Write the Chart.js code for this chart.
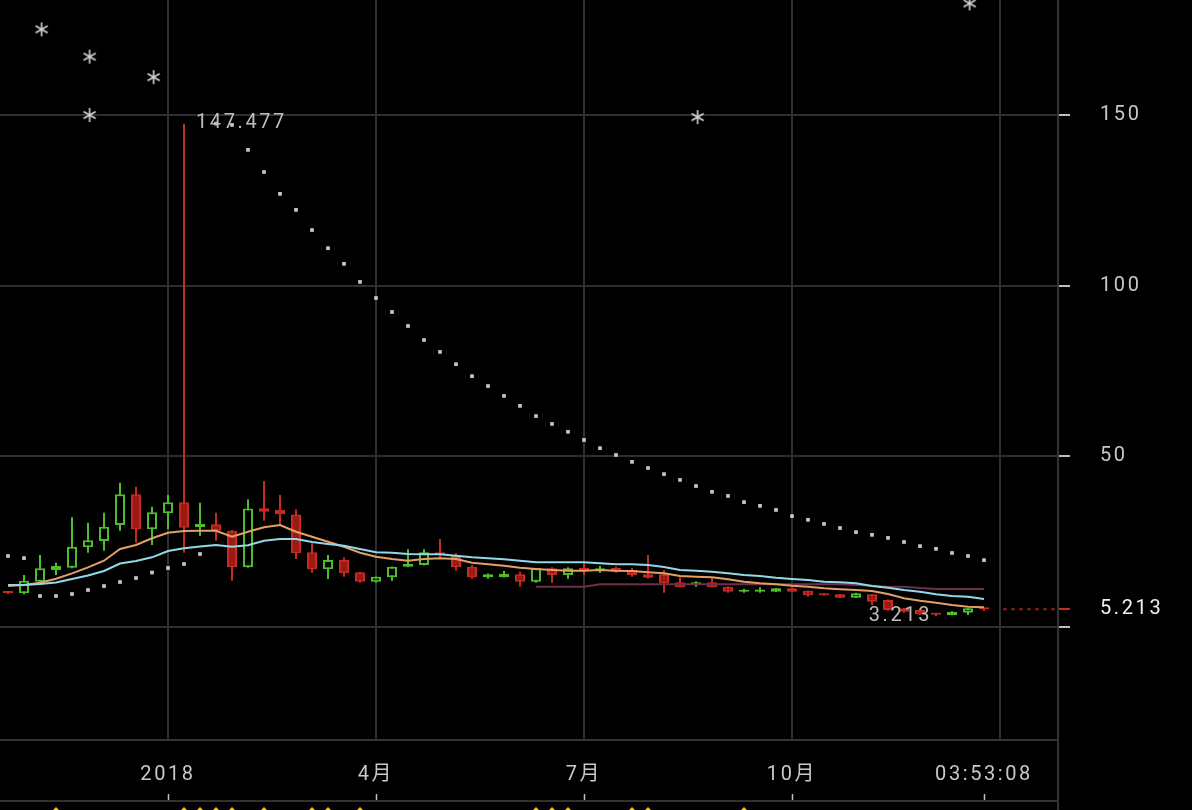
<!DOCTYPE html>
<html>
<head>
<meta charset="utf-8">
<script src="https://cdn.jsdelivr.net/npm/chart.js"></script>
<style>
html, body { margin: 0; padding: 0; background: #000; }
#caixa { width: 1192px; height: 810px; position: relative; }
</style>
</head>
<body>
<div id="caixa"><canvas id="grafico"></canvas></div>
<script>
// velas semanais (indice 0 = primeira semana visivel)
var abertura = [10.25, 9.87, 13.27, 16.7, 17.37, 23.35, 25.2, 29.89, 38.88, 28.63,
    33.31, 36.54, 29.21, 30.09, 28.22, 17.49, 34.78, 34.28, 33.0, 21.89,
    16.9, 19.63, 16.03, 13.27, 14.56, 17.67, 18.17, 21.89, 20.8, 17.67,
    14.56, 14.56, 15.44, 13.27, 17.2, 15.24, 17.0, 16.5, 17.37, 16.7,
    15.44, 15.44, 13.1, 12.39, 13.1, 11.8, 10.34, 10.34, 10.34, 11.34,
    10.64, 9.87, 9.58, 8.58, 9.58, 7.91, 5.48, 4.98, 4.0, 3.52,
    4.19, 5.42];
var maxima = [10.5, 15.24, 21.1, 18.84, 32.14, 30.56, 33.49, 42.28, 41.11, 35.25,
    38.68, 147.477, 36.42, 33.49, 28.42, 37.45, 42.78, 38.68, 34.48, 24.52,
    21.1, 20.42, 16.1, 14.8, 17.7, 22.77, 22.77, 25.78, 21.59, 18.17,
    15.7, 16.4, 16.2, 17.3, 17.49, 17.49, 18.66, 17.87, 17.67, 17.37,
    21.1, 16.7, 14.56, 13.4, 14.56, 11.9, 11.22, 11.63, 11.45, 11.57,
    10.7, 9.95, 9.65, 10.05, 9.65, 8.06, 5.55, 5.13, 4.19, 4.6,
    5.55, 5.48];
var minima = [9.67, 9.58, 13.1, 15.24, 17.2, 21.77, 22.36, 28.22, 24.7, 24.03,
    28.63, 21.77, 26.66, 25.29, 13.57, 17.4, 31.14, 29.89, 19.92, 15.91,
    14.06, 14.74, 12.98, 12.98, 13.57, 17.6, 18.0, 20.13, 16.5, 14.15,
    14.15, 14.5, 11.8, 12.98, 12.98, 14.15, 15.24, 15.91, 15.91, 14.74,
    14.15, 10.05, 11.57, 11.8, 11.57, 10.05, 10.05, 10.05, 10.26, 10.1,
    8.88, 9.17, 8.5, 8.5, 6.45, 4.78, 4.19, 3.5, 3.213, 3.45,
    3.52, 4.69];
var fechamento = [9.96, 13.57, 17.2, 17.87, 23.53, 25.4, 29.39, 38.88, 28.63, 33.61,
    36.54, 29.09, 30.18, 28.22, 17.49, 34.7, 33.78, 33.1, 21.59, 16.9,
    19.63, 15.73, 13.27, 14.74, 17.67, 18.46, 21.89, 21.3, 17.49, 14.56,
    15.44, 15.53, 13.27, 17.2, 15.24, 17.2, 16.7, 17.2, 16.2, 15.24,
    14.44, 12.74, 11.63, 13.1, 11.63, 10.34, 10.84, 10.99, 11.34, 10.34,
    9.29, 9.29, 8.58, 9.87, 7.41, 4.98, 4.48, 3.7, 3.6, 4.48,
    5.48, 5.213];

// medias moveis
var mediaLaranja = [12.0, 12.3, 12.98, 14.15, 15.73, 17.49, 19.43, 22.85, 24.03, 25.99,
    27.63, 28.13, 28.22, 28.22, 26.46, 27.92, 29.21, 29.89, 27.92, 26.46,
    24.99, 23.53, 21.77, 20.6, 19.92, 19.43, 19.92, 20.13, 19.92, 18.84,
    18.37, 17.96, 17.37, 16.99, 16.7, 16.5, 16.5, 16.7, 16.5, 16.41,
    16.03, 15.73, 14.94, 14.74, 14.56, 13.98, 13.27, 12.8, 12.51, 12.1,
    11.81, 11.34, 11.05, 10.84, 10.55, 9.67, 8.41, 7.71, 7.12, 6.45,
    5.95, 5.77];
var mediaCiano = [12.31, 12.31, 12.6, 13.04, 14.06, 15.09, 16.41, 18.61, 19.34, 20.42,
    22.27, 23.06, 23.59, 24.03, 23.53, 23.94, 25.29, 25.78, 25.78, 24.9,
    24.32, 23.82, 22.85, 21.89, 21.77, 21.39, 21.3, 21.3, 20.89, 20.42,
    20.13, 19.83, 19.43, 18.96, 18.96, 18.96, 18.96, 18.66, 18.37, 18.37,
    18.17, 17.58, 16.7, 16.5, 16.2, 15.73, 15.24, 14.94, 14.44, 14.06,
    13.77, 13.27, 13.1, 12.8, 12.01, 11.52, 10.84, 10.34, 9.58, 9.08,
    8.88, 8.2];
var mediaRoxa = [null, null, null, null, null, null, null, null, null, null,
    null, null, null, null, null, null, null, null, null, null,
    null, null, null, null, null, null, null, null, null, null,
    null, null, null, 11.81, 11.81, 11.81, 11.81, 12.51, 12.51, 12.51,
    12.51, 12.51, 12.51, 12.51, 12.51, 12.51, 12.51, 12.51, 12.51, 12.51,
    12.51, 12.51, 12.51, 12.3, 12.1, 11.81, 11.81, 11.4, 11.13, 11.13,
    11.13, 11.13];

// pontos do SAR
var sar = [20.8, 20.2, 9.08, 9.08, 9.67, 10.84, 12.0, 13.18, 14.36, 15.97,
    17.29, 18.46, 21.39, 147.477, 147.1, 139.8, 133.3, 126.9, 122.2, 116.3,
    111.0, 106.4, 101.1, 96.4, 92.3, 88.2, 84.1, 80.6, 77.0, 73.5,
    70.6, 67.7, 64.8, 61.8, 59.5, 57.2, 54.8, 52.4, 50.4, 48.4,
    46.6, 44.8, 43.1, 41.3, 39.6, 38.4, 36.6, 35.5, 34.3, 32.5,
    31.4, 30.2, 29.0, 27.8, 27.0, 26.1, 24.9, 23.7, 22.9, 21.7,
    20.8, 19.6];

// asteriscos no topo
var asteriscoX = [2.1, 5.1, 5.1, 9.1, 43.1, 60.1, 73.1];
var asteriscoY = [175.1, 167.1, 150.0, 161.1, 149.4, 182.7, 162.9];

// sinais do painel de baixo
var sinais = [3, 11, 12, 13, 14, 16, 19, 20, 22, 33, 34, 35, 39, 40, 46];

var posRotulosX = [10, 23, 36, 49, 61, 62];
var rotulosX = ['2018', '4月', '7月', '10月', '03:53:08', ''];

var ultimo = fechamento[fechamento.length - 1];
var ticksY = [0, ultimo, 50, 100, 150];

var VERMELHO = '#c62a21';
var VERMELHO_FUNDO = '#9a1b16';
var VERDE = '#4dbd2e';

var cores = [];
var fundos = [];
abertura.forEach(function (a, i) {
    if (fechamento[i] >= a) {
        cores.push(VERDE);
        fundos.push('#000000');
    } else {
        cores.push(VERMELHO);
        fundos.push(VERMELHO_FUNDO);
    }
});

function pares(valores) {
    return valores.map(function (v, i) { return { x: i, y: v }; });
}

function criarAsterisco() {
    var c = document.createElement('canvas');
    c.width = 16;
    c.height = 16;
    var g = c.getContext('2d');
    g.strokeStyle = '#d2d2d2';
    g.lineWidth = 1.6;
    for (var k = 0; k < 3; k++) {
        var a = Math.PI / 2 + k * Math.PI / 3;
        g.beginPath();
        g.moveTo(8 + 7 * Math.cos(a), 8 - 7 * Math.sin(a));
        g.lineTo(8 - 7 * Math.cos(a), 8 + 7 * Math.sin(a));
        g.stroke();
    }
    return c;
}

var extras = {
    id: 'extras',
    beforeDraw: function (chart) {
        chart.ctx.letterSpacing = '2.6px';
    },
    afterDatasetsDraw: function (chart) {
        var ctx = chart.ctx;
        var x = chart.scales.x;
        var y = chart.scales.y;
        var area = chart.chartArea;
        var iMax = maxima.indexOf(Math.max.apply(null, maxima));
        var iMin = minima.indexOf(Math.min.apply(null, minima));

        ctx.save();
        ctx.font = '20px Roboto';
        ctx.fillStyle = '#bdbdbd';
        ctx.textBaseline = 'middle';
        ctx.textAlign = 'left';
        ctx.fillText(maxima[iMax].toFixed(3), x.getPixelForValue(iMax) + 12, y.getPixelForValue(maxima[iMax]) - 1);
        ctx.textAlign = 'right';
        ctx.fillText(minima[iMin].toFixed(3), x.getPixelForValue(iMin) - 4, y.getPixelForValue(minima[iMin]));

        // linha do preco atual
        var py = y.getPixelForValue(ultimo);
        ctx.strokeStyle = '#8b1c17';
        ctx.lineWidth = 2;
        ctx.setLineDash([4, 4]);
        ctx.beginPath();
        ctx.moveTo(x.getPixelForValue(fechamento.length - 1) + 19, py);
        ctx.lineTo(area.right, py);
        ctx.stroke();
        ctx.restore();
    },
    afterDraw: function (chart) {
        var ctx = chart.ctx;
        var x = chart.scales.x;
        var area = chart.chartArea;

        ctx.save();
        ctx.strokeStyle = '#333333';
        ctx.lineWidth = 2;
        ctx.beginPath();
        ctx.moveTo(area.left, 801);
        ctx.lineTo(area.right, 801);
        ctx.moveTo(area.right, area.bottom);
        ctx.lineTo(area.right, chart.height);
        ctx.stroke();

        ctx.strokeStyle = '#bdbdbd';
        ctx.lineWidth = 1.5;
        ctx.beginPath();
        [10, 23, 36, 49, 61].forEach(function (v) {
            var px = Math.round(x.getPixelForValue(v)) + 0.5;
            ctx.moveTo(px, 794);
            ctx.lineTo(px, 800);
        });
        ctx.stroke();

        ctx.fillStyle = '#f0c020';
        sinais.forEach(function (i) {
            var px = x.getPixelForValue(i);
            ctx.beginPath();
            ctx.moveTo(px, 807);
            ctx.lineTo(px + 6, 813);
            ctx.lineTo(px, 819);
            ctx.lineTo(px - 6, 813);
            ctx.closePath();
            ctx.fill();
        });
        ctx.restore();
    }
};

Chart.defaults.font.family = "Roboto, 'Noto Sans CJK SC', sans-serif";
Chart.defaults.font.size = 20;

var ctx = document.getElementById('grafico').getContext('2d');

var meuGrafico = new Chart(ctx, {
    type: 'bar',
    data: {
        datasets: [
            {
                type: 'line',
                label: 'media 2',
                data: pares(mediaCiano),
                borderColor: '#92d9e8',
                borderWidth: 2,
                pointRadius: 0,
                order: 1
            },
            {
                type: 'line',
                label: 'media 1',
                data: pares(mediaLaranja),
                borderColor: '#e3a064',
                borderWidth: 2,
                pointRadius: 0,
                order: 2
            },
            {
                type: 'line',
                label: 'media 3',
                data: pares(mediaRoxa),
                borderColor: '#6c2f4e',
                borderWidth: 2,
                pointRadius: 0,
                order: 3
            },
            {
                type: 'line',
                label: 'sar',
                data: pares(sar),
                showLine: false,
                pointStyle: 'rect',
                pointRadius: 2.6,
                pointBorderWidth: 0,
                pointBackgroundColor: '#c8c8c8',
                order: 0
            },
            {
                type: 'line',
                label: 'asteriscos',
                data: asteriscoX.map(function (v, i) { return { x: v, y: asteriscoY[i] }; }),
                showLine: false,
                pointStyle: criarAsterisco(),
                pointRadius: 8,
                clip: false,
                order: 0
            },
            {
                type: 'bar',
                label: 'corpo',
                data: abertura.map(function (a, i) { return { x: i, y: [a, fechamento[i]] }; }),
                backgroundColor: fundos,
                borderColor: cores,
                borderWidth: 2,
                borderSkipped: false,
                grouped: false,
                maxBarThickness: 10,
                minBarLength: 2,
                order: 5
            },
            {
                type: 'bar',
                label: 'pavio',
                data: minima.map(function (m, i) { return { x: i, y: [m, maxima[i]] }; }),
                backgroundColor: cores,
                borderWidth: 0,
                grouped: false,
                maxBarThickness: 2,
                order: 6
            }
        ]
    },
    plugins: [extras],
    options: {
        responsive: true,
        maintainAspectRatio: false,
        animation: false,
        layout: { padding: 0, autoPadding: false },
        plugins: {
            legend: { display: false },
            tooltip: { enabled: false }
        },
        scales: {
            x: {
                type: 'linear',
                min: -0.5,
                max: 65.625,
                offset: false,
                grid: {
                    offset: false,
                    lineWidth: 2,
                    drawTicks: false,
                    color: function (c) {
                        return c.tick && c.tick.value === 61 ? 'rgba(0,0,0,0)' : '#2e2e2e';
                    }
                },
                border: { color: '#333333', width: 2 },
                afterBuildTicks: function (s) {
                    s.ticks = posRotulosX.map(function (v) { return { value: v }; });
                },
                afterFit: function (s) {
                    s.height = 70;
                    s.paddingLeft = 0;
                    s.paddingRight = 0;
                },
                ticks: {
                    autoSkip: false,
                    maxRotation: 0,
                    padding: 23,
                    color: '#c8c8c8',
                    callback: function (v) {
                        return rotulosX[posRotulosX.indexOf(v)];
                    }
                }
            },
            y: {
                position: 'right',
                min: -33.1,
                max: 183.7,
                grid: {
                    lineWidth: 2,
                    tickLength: 12,
                    tickWidth: 2,
                    color: function (c) {
                        return c.tick && c.tick.value === ultimo ? 'rgba(0,0,0,0)' : '#2e2e2e';
                    },
                    tickColor: function (c) {
                        return c.tick && c.tick.value === ultimo ? VERMELHO : '#bdbdbd';
                    }
                },
                border: { color: '#333333', width: 2 },
                afterBuildTicks: function (s) {
                    s.ticks = ticksY.map(function (v) { return { value: v }; });
                },
                afterFit: function (s) {
                    s.width = 134;
                    s.paddingTop = 0;
                    s.paddingBottom = 0;
                },
                ticks: {
                    autoSkip: false,
                    padding: 30,
                    color: function (c) {
                        return c.tick && c.tick.value === ultimo ? '#f0f0f0' : '#c8c8c8';
                    },
                    callback: function (v) {
                        if (v === 0) return '';
                        if (v === ultimo) return v.toFixed(3);
                        return String(v);
                    }
                }
            }
        }
    }
});
</script>
</body>
</html>
